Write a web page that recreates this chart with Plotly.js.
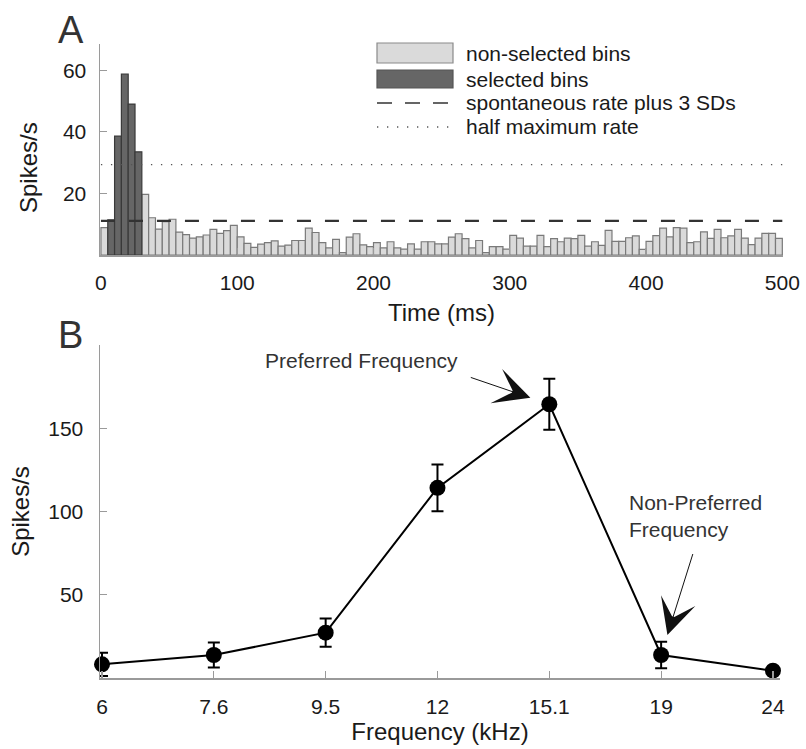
<!DOCTYPE html>
<html>
<head>
<meta charset="utf-8">
<script src="https://cdn.plot.ly/plotly-3.0.1.min.js"></script>
<style>html,body{margin:0;padding:0;background:#fff;}#chart{width:806px;height:749px;}</style>
</head>
<body>
<div id="chart"></div>
<script>
// ---------- Panel A data: PSTH, 5 ms bins, 0-500 ms ----------
const binWidthMs = 5;
const binRates = [
  8.9, 11.4, 38.6, 58.7, 49.0, 33.5, 19.7, 12.1, 8.4, 10.8,
  11.6, 7.4, 6.6, 5.5, 5.9, 6.5, 8.3, 7.0, 7.9, 9.6,
  5.9, 3.8, 2.5, 3.5, 4.0, 4.6, 2.9, 3.2, 4.7, 4.7,
  8.7, 7.3, 4.0, 2.3, 5.1, 0.8, 5.8, 6.9, 3.3, 2.75,
  4.0, 2.3, 4.3, 2.3, 1.9, 3.6, 1.9, 4.3, 4.3, 3.6,
  3.6, 5.8, 6.9, 5.3, 2.3, 4.7, 0.8, 2.75, 2.75, 1.9,
  6.4, 5.5, 2.9, 2.9, 6.4, 2.75, 5.3, 4.3, 5.5, 5.3,
  6.4, 2.9, 4.3, 3.1, 8.0, 4.4, 4.4, 5.6, 6.2, 1.8,
  4.4, 6.3, 8.7, 5.9, 8.9, 8.7, 4.0, 4.3, 7.5, 5.4,
  8.3, 5.6, 6.2, 8.3, 5.5, 3.4, 5.5, 7.0, 7.0, 5.4
];
const selectedBins = [1, 2, 3, 4, 5];
const spontPlus3SD = [11.1];
const timeExtentMs = [0, 500];
const timeTicks = [0, 100, 200, 300, 400, 500];
const rateTicksA = [20, 40, 60];

// ---------- Panel B data: frequency tuning ----------
const freqLabels = ["6", "7.6", "9.5", "12", "15.1", "19", "24"];
const meanRates = [8.2, 13.8, 27.2, 114.2, 164.4, 13.8, 4.4];
const rateErr = [7.0, 7.5, 8.5, 14.0, 15.3, 8.0, 2.0];
const rateTicksB = [50, 100, 150];
const preferredIdx = 4;
const nonPreferredIdx = 5;

// ---------- derived ----------
const centers = binRates.map((_, i) => i * binWidthMs + binWidthMs / 2);
const isSel = binRates.map((_, i) => selectedBins.includes(i));
const halfMax = Math.max(...binRates) / 2;

const FONT = 'Liberation Sans, Arial, Helvetica, sans-serif';
const TXT = '#1a1a1a';
const AX = '#9a9a9a';

// pixel frame
const L = 100, R = 23, T = 44, B = 71, W = 806, H = 749;
const PW = W - L - R, PH = H - T - B;
const px = x => (x - L) / PW;
const py = y => (T + PH - y) / PH;

const traces = [
  {
    type: 'bar', name: 'non-selected bins',
    x: centers.filter((_, i) => !isSel[i]),
    y: binRates.filter((_, i) => !isSel[i]),
    width: binWidthMs,
    marker: {color: '#dadada', line: {color: '#7a7a7a', width: 1.2}},
    xaxis: 'x', yaxis: 'y', showlegend: false
  },
  {
    type: 'bar', name: 'selected bins',
    x: centers.filter((_, i) => isSel[i]),
    y: binRates.filter((_, i) => isSel[i]),
    width: binWidthMs,
    marker: {color: '#666666', line: {color: '#3a3a3a', width: 1.2}},
    xaxis: 'x', yaxis: 'y', showlegend: false
  },
  {
    type: 'scatter', mode: 'lines', name: 'half maximum rate',
    x: timeExtentMs, y: timeExtentMs.map(() => halfMax),
    line: {color: '#555', width: 1.3, dash: '1.3px,8.7px'},
    xaxis: 'x', yaxis: 'y', showlegend: false
  },
  {
    type: 'scatter', mode: 'lines', name: 'spontaneous rate plus 3 SDs',
    x: timeExtentMs, y: timeExtentMs.map(() => spontPlus3SD[0]),
    line: {color: '#333', width: 2.2, dash: '14px,14px'},
    xaxis: 'x', yaxis: 'y', showlegend: false
  },
  {
    type: 'scatter', mode: 'lines+markers', name: 'tuning',
    x: freqLabels, y: meanRates,
    error_y: {type: 'data', array: rateErr, visible: true, color: '#000', thickness: 2, width: 6},
    line: {color: '#000', width: 2},
    marker: {color: '#000', size: 16},
    cliponaxis: false,
    xaxis: 'x2', yaxis: 'y2', showlegend: false
  }
];

// custom legend
const legX0 = 377, legX1 = 453, legTextX = 464;
const shapes = [
  {type: 'rect', xref: 'paper', yref: 'paper', x0: px(legX0), x1: px(legX1), y0: py(63), y1: py(43),
   fillcolor: '#dadada', line: {color: '#8a8a8a', width: 1.2}},
  {type: 'rect', xref: 'paper', yref: 'paper', x0: px(legX0), x1: px(legX1), y0: py(88), y1: py(70),
   fillcolor: '#666666', line: {color: '#555', width: 1.2}},
  {type: 'line', xref: 'paper', yref: 'paper', x0: px(legX0), x1: px(legX1 + 1), y0: py(103), y1: py(103),
   line: {color: '#333', width: 1.6, dash: '15px,13px'}},
  {type: 'line', xref: 'paper', yref: 'paper', x0: px(legX0), x1: px(legX1), y0: py(127), y1: py(127),
   line: {color: '#555', width: 1.3, dash: '1.3px,8.7px'}}
];

const legendLabels = ['non-selected bins', 'selected bins', 'spontaneous rate plus 3 SDs', 'half maximum rate'];
const legendRows = [53, 79, 103, 127];
const annotations = legendLabels.map((t, i) => ({
  text: t, xref: 'paper', yref: 'paper', x: px(legTextX), y: py(legendRows[i]),
  xanchor: 'left', yanchor: 'middle', showarrow: false,
  font: {family: FONT, size: 21, color: TXT}
}));

annotations.push(
  {text: 'A', xref: 'paper', yref: 'paper', x: px(71), y: py(30), xanchor: 'center', yanchor: 'middle',
   showarrow: false, font: {family: FONT, size: 38, color: '#333'}},
  {text: 'B', xref: 'paper', yref: 'paper', x: px(70), y: py(335), xanchor: 'center', yanchor: 'middle',
   showarrow: false, font: {family: FONT, size: 38, color: '#333'}},
  {text: 'Spikes/s', xref: 'paper', yref: 'paper', x: px(28), y: py(168), xanchor: 'center', yanchor: 'middle',
   textangle: -90, showarrow: false, font: {family: FONT, size: 24, color: TXT}},
  {text: 'Preferred Frequency', xref: 'paper', yref: 'paper', x: px(263), y: py(360), xanchor: 'left', yanchor: 'middle',
   showarrow: false, font: {family: FONT, size: 21, color: '#333'}},
  {text: 'Non-Preferred<br>Frequency', xref: 'paper', yref: 'paper', x: px(627), y: py(516), xanchor: 'left', yanchor: 'middle',
   align: 'left', showarrow: false, font: {family: FONT, size: 21, color: '#333'}},
  {text: ' ', xref: 'x2', yref: 'y2', x: preferredIdx, y: meanRates[preferredIdx],
   showarrow: true, arrowhead: 3, arrowsize: 6, arrowwidth: 1, arrowcolor: '#111',
   ax: -79, ay: -27, standoff: 20, font: {size: 1}, borderpad: 0},
  {text: ' ', xref: 'x2', yref: 'y2', x: nonPreferredIdx, y: meanRates[nonPreferredIdx],
   showarrow: true, arrowhead: 3, arrowsize: 6, arrowwidth: 1, arrowcolor: '#111',
   ax: 32, ay: -102, standoff: 21, font: {size: 1}, borderpad: 0}
);

const axCommon = {
  showline: true, linecolor: AX, linewidth: 1.5, mirror: false,
  ticks: 'inside', ticklen: 7, tickcolor: AX, tickwidth: 1.2,
  showgrid: false, zeroline: false,
  tickfont: {family: FONT, size: 21, color: TXT}
};

const layout = {
  width: W, height: H,
  margin: {l: L, r: R, t: T, b: B, pad: 0},
  paper_bgcolor: '#fff', plot_bgcolor: 'rgba(0,0,0,0)',
  showlegend: false, barmode: 'overlay', bargap: 0,
  font: {family: FONT, color: TXT},
  xaxis: Object.assign({}, axCommon, {
    domain: [0, 1], anchor: 'y', range: [-0.7, 500.5],
    tickmode: 'array', tickvals: timeTicks, ticklabelstandoff: 8,
    title: {text: 'Time (ms)', font: {family: FONT, size: 24, color: TXT}, standoff: 11}
  }),
  yaxis: Object.assign({}, axCommon, {
    domain: [py(255), py(44)], anchor: 'x', range: [0, 68.5],
    tickmode: 'array', tickvals: rateTicksA, ticklabelstandoff: 8
  }),
  xaxis2: Object.assign({}, axCommon, {
    domain: [0, px(780)], anchor: 'y2', type: 'category',
    range: [-0.018, 6.063], ticklabelstandoff: 9,
    title: {text: 'Frequency (kHz)', font: {family: FONT, size: 24, color: TXT}, standoff: 3}
  }),
  yaxis2: Object.assign({}, axCommon, {
    domain: [0, py(345)], anchor: 'x2', range: [0, 200],
    tickmode: 'array', tickvals: rateTicksB, ticklabelstandoff: 11,
    title: {text: 'Spikes/s', font: {family: FONT, size: 24, color: TXT}, standoff: 12}
  }),
  shapes: shapes,
  annotations: annotations
};

Plotly.newPlot('chart', traces, layout, {displayModeBar: false, staticPlot: true});
</script>
</body>
</html>
